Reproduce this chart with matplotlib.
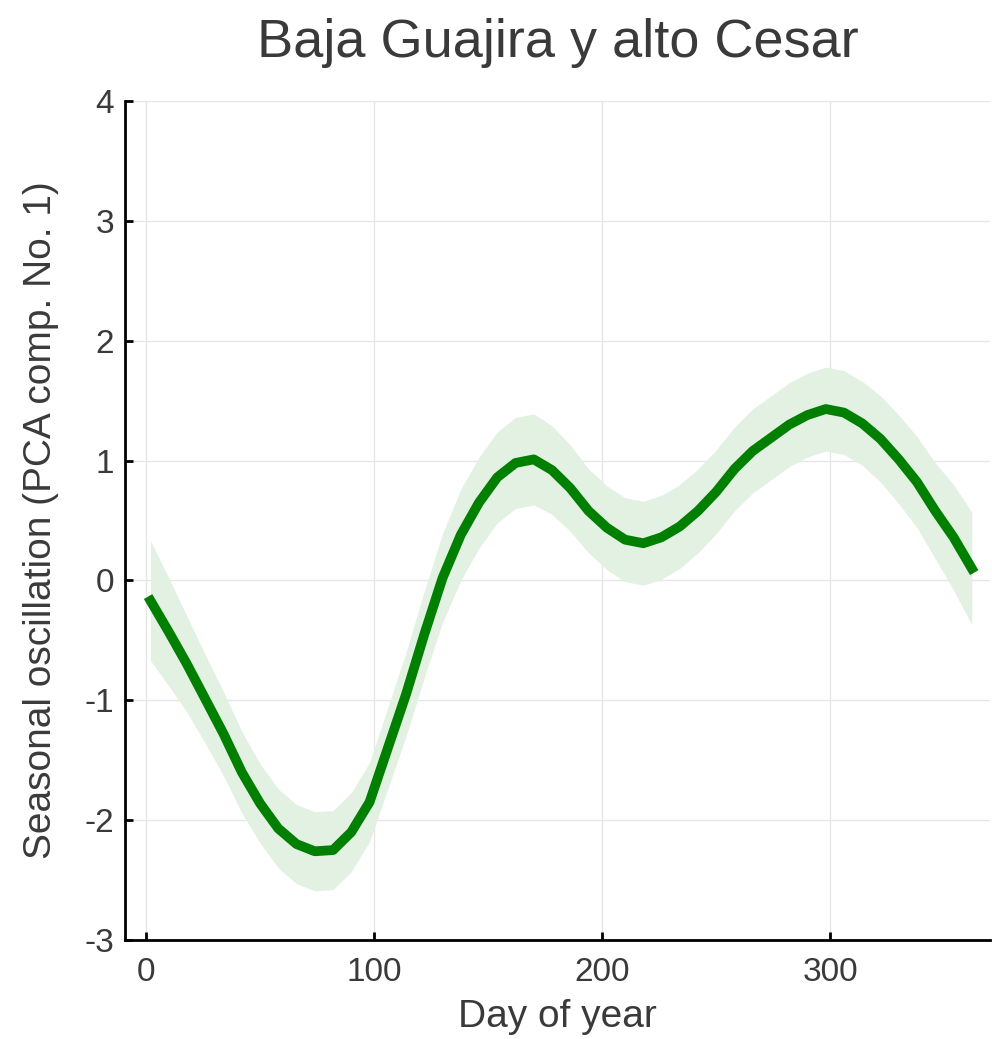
import numpy as np
import matplotlib
matplotlib.use('Agg')
import matplotlib.pyplot as plt

# seasonal PCA component
days = [2, 10, 18, 26, 34, 42, 50, 58, 66, 74, 82, 90, 98, 106, 114, 122,
        130, 138, 146, 154, 162, 170, 178, 186, 194, 202, 210, 218, 226, 234,
        242, 250, 258, 266, 274, 282, 290, 298, 306, 314, 322, 330, 338, 346,
        354, 362]
mean = [-0.17, -0.43, -0.70, -0.99, -1.28, -1.60, -1.86, -2.07, -2.20, -2.26,
        -2.25, -2.10, -1.85, -1.40, -0.95, -0.45, 0.02, 0.38, 0.65, 0.86,
        0.98, 1.01, 0.92, 0.77, 0.58, 0.44, 0.34, 0.31, 0.36, 0.45, 0.58,
        0.74, 0.93, 1.08, 1.19, 1.30, 1.38, 1.43, 1.40, 1.31, 1.18, 1.01,
        0.82, 0.58, 0.36, 0.10]
spread = [0.50, 0.45, 0.40, 0.37, 0.35, 0.34, 0.33, 0.33, 0.33, 0.33,
          0.33, 0.33, 0.33, 0.34, 0.35, 0.36, 0.37, 0.38, 0.38, 0.38,
          0.38, 0.38, 0.37, 0.36, 0.35, 0.35, 0.35, 0.35, 0.35, 0.35, 0.35,
          0.35, 0.35, 0.35, 0.35, 0.35, 0.35, 0.35, 0.35, 0.35, 0.36, 0.37,
          0.38, 0.40, 0.44, 0.47]

x = np.array(days)
y = np.array(mean)
s = np.array(spread)

plt.rcParams['font.family'] = ['Liberation Sans', 'DejaVu Sans']
plt.rcParams['axes.unicode_minus'] = False
txt = '#3a3a3a'

fig = plt.figure(figsize=(9.92, 10.39), dpi=100)
ax = fig.add_axes([0.126, 0.0953, 0.872, 0.8075])

ax.fill_between(x, y - s, y + s, color='#e2f1e2', lw=0)
ax.plot(x, y, color='#007f00', lw=7, solid_joinstyle='round')

ax.set_xlim(-9.2, 370)
ax.set_ylim(-3, 4)
ax.set_xticks([0, 100, 200, 300])
ax.set_yticks(range(-3, 5))
ax.grid(color='#e6e6e6', lw=1)
ax.set_axisbelow(True)
for sp in ['top', 'right']:
    ax.spines[sp].set_visible(False)
for sp in ['left', 'bottom']:
    ax.spines[sp].set_linewidth(2)
ax.tick_params(direction='in', length=6, width=2, labelsize=24, colors='black',
               labelcolor=txt, pad=8)
ax.tick_params(axis='x', pad=12)

ax.set_title('Baja Guajira y alto Cesar', fontsize=39, color=txt, pad=32)
ax.set_xlabel('Day of year', fontsize=28, color=txt, labelpad=8)
ax.set_ylabel('Seasonal oscillation (PCA comp. No. 1)', fontsize=28, color=txt, labelpad=18)

fig.savefig('out.png', dpi=100)
